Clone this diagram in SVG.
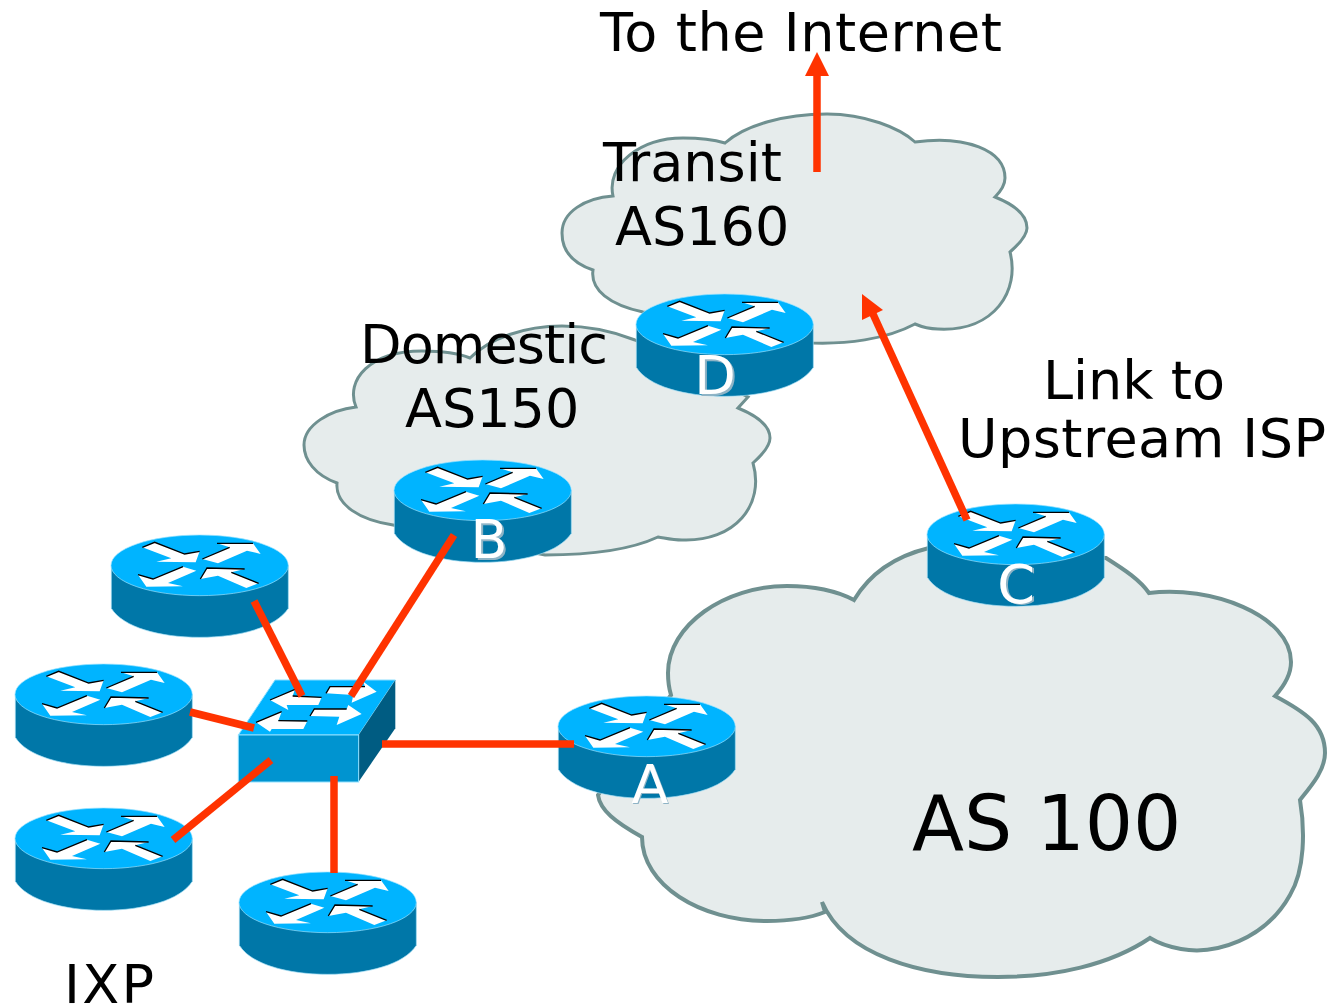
<svg xmlns="http://www.w3.org/2000/svg" width="1332" height="1007" viewBox="0 0 1332 1007">
<style>
text{font-family:"DejaVu Sans",Verdana,sans-serif;fill:#000}
.l{font-size:54px}
.r{font-size:54px;fill:#fff;text-anchor:middle}
.rs{font-size:54px;fill:#8fb4c6;text-anchor:middle}
.cloud{fill:#e6ecec;stroke:#6f9090;stroke-width:3}
.wire{stroke:#ff3300;stroke-width:7.5;fill:none}
.ah{fill:#ff3300}
.ar{fill:#fff}
.as{fill:none;stroke:#000;stroke-width:4}
</style>
<defs>
<g id="router">
<path d="M55 140V268C90 325 200 355 320 355C440 355 550 325 586 268V140Z" fill="#0077a8" stroke="#9fdcf5" stroke-width="2"/>
<ellipse cx="320" cy="139" rx="266" ry="91" fill="#00b4ff" stroke="#9fe4ff" stroke-width="2"/>
<path class="ar" d="M148 85L185 70L275 105L320 97L308 130L190 128L235 118Z"/>
<path class="as" d="M148 85L185 70L275 105L320 97"/>
<path class="ar" d="M328 120L410 85L372 73L480 73L503 105L462 95L375 133Z"/>
<path class="as" d="M328 120L410 85M372 73L480 73"/>
<path class="ar" d="M135 167L180 180L270 143L310 155L225 192L270 202L160 203Z"/>
<path class="as" d="M135 167L180 180L270 143"/>
<path class="ar" d="M322 180L342 147L455 150L415 160L497 193L460 207L375 170Z"/>
<path class="as" d="M322 180L342 147L455 150M415 160L497 193"/>
</g>
</defs>
<g id="cloud-as100"><path class="cloud" style="stroke-width:4" d="M854 600C872 570 900 555 929 548L1106 558C1125 570 1140 580 1149 593C1210 585 1291 615 1291 662C1291 675 1285 685 1275 696C1305 712 1325 725 1325 753C1325 770 1312 785 1300 800C1305 830 1305 870 1290 895C1265 940 1215 955 1181 949C1170 947 1158 943 1150 938C1110 965 1055 977 998 977C920 977 845 955 822 902L825 912C805 920 785 921 767 921C700 921 642 885 642 837C615 822 600 810 598 795L671 695C668 685 668 680 668 673C668 625 725 586 787 586C815 586 835 590 854 600Z"/></g>
<g id="cloud-as150"><path class="cloud" d="M356 407C345 380 370 351 422 351C440 351 458 353 470 358C490 338 525 326 562 326C590 326 615 332 635 340L748 397L738 408C755 415 770 425 770 438C770 445 762 455 753 463C765 505 735 542 682 540C672 540 665 538 658 537C630 550 590 555 545 555L393 525C360 520 335 505 337 483C315 475 304 460 304 445C304 425 330 410 356 407Z"/></g>
<g id="cloud-as160"><path class="cloud" d="M613 196C606 165 640 138 683 138C700 138 715 140 725 143C745 125 785 114 827 114C865 114 900 128 915 142C965 135 1005 150 1005 178C1005 185 1000 192 995 197C1015 205 1027 215 1027 228C1027 235 1018 245 1010 252C1020 290 995 332 938 329C930 329 922 327 915 324C885 340 845 344 813 343L643 312C610 305 590 290 593 270C572 263 562 250 562 233C562 212 585 198 613 196Z"/></g>
<g id="router-d"><use href="#router" transform="translate(618 278) scale(.3333)"/></g>
<g id="router-b"><use href="#router" transform="translate(376 444) scale(.3333)"/></g>
<g id="router-c"><use href="#router" transform="translate(909 488) scale(.3333)"/></g>
<g id="router-a"><use href="#router" transform="translate(540 680) scale(.3333)"/></g>
<g id="router-ixp1"><use href="#router" transform="translate(93 519) scale(.3333)"/></g>
<g id="router-ixp2"><use href="#router" transform="translate(-3 648) scale(.3333)"/></g>
<g id="router-ixp3"><use href="#router" transform="translate(-3 792) scale(.3333)"/></g>
<g id="router-ixp4"><use href="#router" transform="translate(221 856) scale(.3333)"/></g>
<g id="switch" transform="translate(220 660) scale(.3333)">
<path d="M55 225L165 60H526L416 225Z" fill="#00b4ff" stroke="#8fe0ff" stroke-width="3"/>
<path d="M416 225L526 60V205L416 365Z" fill="#005c82"/>
<rect x="55" y="225" width="361" height="141" fill="#0094d0" stroke="#8fe0ff" stroke-width="3"/>
<path class="ar" d="M150 120L225 88L218 108L305 112L295 135L200 135L205 150Z"/>
<path class="as" d="M150 120L225 88M218 108L305 112"/>
<path class="ar" d="M318 100L330 80L435 80L430 65L470 95L395 128L400 105Z"/>
<path class="as" d="M318 100L330 80L435 80"/>
<path class="ar" d="M108 187L185 155L175 182L262 183L250 207L155 207L150 215Z"/>
<path class="as" d="M108 187L185 155M175 182L262 183"/>
<path class="ar" d="M270 168L283 147L380 147L385 135L425 162L350 195L358 170Z"/>
<path class="as" d="M270 168L283 147L380 147"/>
</g>
<g id="connectors">
<path class="wire" d="M817 172V72"/><path class="ah" d="M817 52L829 76H805Z"/>
<path class="wire" d="M967 520L873 314"/><path class="ah" d="M862 294L883 310L862 320Z"/>
<path class="wire" d="M454 535L351 696"/>
<path class="wire" d="M254 601L302 696"/>
<path class="wire" d="M190 712L254 728"/>
<path class="wire" d="M271 760L173 840"/>
<path class="wire" d="M334 776V873"/>
<path class="wire" d="M382 744H574"/>
</g>
<g id="labels">
<text class="l" x="600" y="51" textLength="402">To the Internet</text>
<text class="l" x="603" y="181">Transit</text>
<text class="l" x="615" y="245">AS160</text>
<text class="l" x="360" y="363" textLength="248">Domestic</text>
<text class="l" x="405" y="427">AS150</text>
<text class="l" x="1043" y="399">Link to</text>
<text class="l" x="958" y="457" textLength="368">Upstream ISP</text>
<text x="912" y="850" style="font-size:76px">AS 100</text>
<text class="l" x="64" y="1003" textLength="90">IXP</text>
<text class="rs" x="717" y="396">D</text><text class="r" x="715" y="394">D</text>
<text class="rs" x="491" y="560">B</text><text class="r" x="489" y="558">B</text>
<text class="rs" x="1018" y="604">C</text><text class="r" x="1016" y="603">C</text>
<text class="rs" x="651" y="804">A</text><text class="r" x="650" y="803">A</text>
</g>
</svg>
